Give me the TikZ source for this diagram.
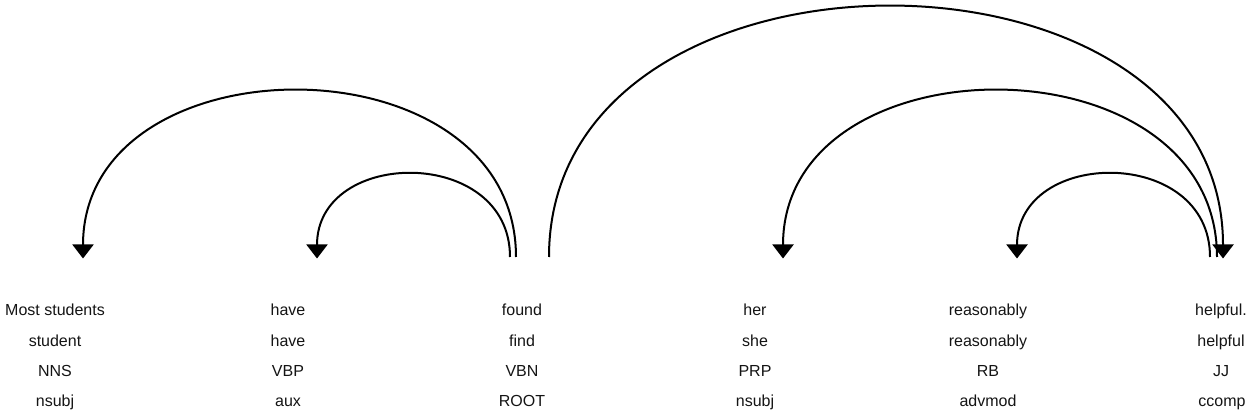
\documentclass[tikz,border=0pt]{standalone}
\usepackage{fontspec}
\setmainfont{Liberation Sans}
\usetikzlibrary{arrows.meta}
\begin{document}
\begin{tikzpicture}[x=1pt,y=-1pt,
  word/.style={anchor=base, inner sep=0pt, text=black!92, font=\fontsize{16}{19}\selectfont},
  dep/.style={line width=2pt, -{Triangle[width=21pt,length=14pt]}},
]
\useasboundingbox (0,0) rectangle (1255,419);
% words
\node[word] (w1) at (55,316) {Most students};
\node[word] (w2) at (288,316) {have};
\node[word] (w3) at (522,316) {found};
\node[word] (w4) at (755,316) {her};
\node[word] (w5) at (988,316) {reasonably};
\node[word] (w6) at (1221,316) {helpful.};
% lemmas
\node[word] (l1) at (55,346) {student};
\node[word] (l2) at (288,346) {have};
\node[word] (l3) at (522,346) {find};
\node[word] (l4) at (755,346) {she};
\node[word] (l5) at (988,346) {reasonably};
\node[word] (l6) at (1221,346) {helpful};
% POS
\node[word] (p1) at (55,376) {NNS};
\node[word] (p2) at (288,376) {VBP};
\node[word] (p3) at (522,376) {VBN};
\node[word] (p4) at (755,376) {PRP};
\node[word] (p5) at (988,376) {RB};
\node[word] (p6) at (1221,376) {JJ};
% relations
\node[word] (r1) at (55,406) {nsubj};
\node[word] (r2) at (288,406) {aux};
\node[word] (r3) at (522,406) {ROOT};
\node[word] (r4) at (755,406) {nsubj};
\node[word] (r5) at (988,406) {advmod};
\node[word] (r6) at (1222,406) {ccomp};
% arc end points
\coordinate (students-in) at (83,258.5);
\coordinate (have-in) at (317,258.5);
\coordinate (found-a) at (516,257);
\coordinate (found-b) at (510,257);
\coordinate (found-c) at (549,257);
\coordinate (her-in) at (783,258.5);
\coordinate (reas-in) at (1017,258.5);
\coordinate (helpful-in) at (1223,258.5);
\coordinate (helpful-a) at (1217,257);
\coordinate (helpful-b) at (1210,257);
% arcs
\draw[dep] (found-a) .. controls +(0,-222) and +(0,-222) .. (students-in);
\draw[dep] (found-b) .. controls +(0,-111) and +(0,-111) .. (have-in);
\draw[dep] (found-c) .. controls +(0,-334) and +(0,-334) .. (helpful-in);
\draw[dep] (helpful-a) .. controls +(0,-222) and +(0,-222) .. (her-in);
\draw[dep] (helpful-b) .. controls +(0,-111) and +(0,-111) .. (reas-in);
\end{tikzpicture}
\end{document}
